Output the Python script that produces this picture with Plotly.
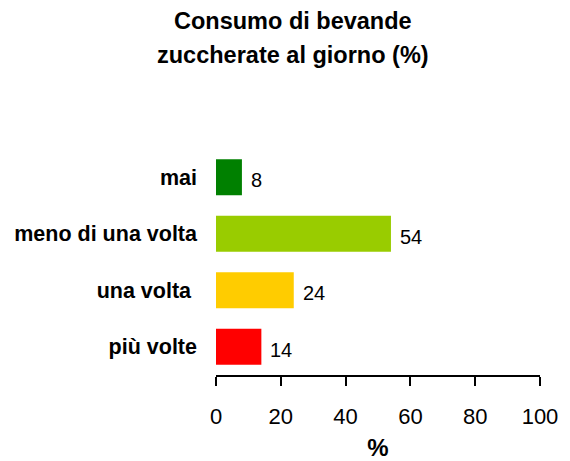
import plotly.graph_objects as go

categories = ["mai", "meno di una volta", "una volta\u00a0", "più volte"]
values = [8, 54, 24, 14]
colors = ["#008000", "#99CC00", "#FFCC00", "#FF0000"]
x_ticks = [0, 20, 40, 60, 80, 100]
title_lines = ["Consumo di bevande", "zuccherate al giorno (%)"]

FONT = "Liberation Sans, Arial, Helvetica, sans-serif"
PLOT_TOP, PLOT_BOTTOM = 149, 375

fig = go.Figure()
fig.add_trace(go.Bar(
    x=values, y=categories, orientation="h",
    marker=dict(color=colors, line=dict(width=0)),
    width=0.64, showlegend=False, hoverinfo="skip",
))

for c, v in zip(categories, values):
    fig.add_annotation(
        x=v, y=c, text=str(v), showarrow=False,
        xanchor="left", yanchor="middle", xshift=7, yshift=-3,
        font=dict(family=FONT, size=20, color="black"),
    )

for line, py in zip(title_lines, [21, 55]):
    fig.add_annotation(
        xref="paper", yref="paper",
        x=(293 - 216) / (540 - 216), y=(PLOT_BOTTOM - py) / (PLOT_BOTTOM - PLOT_TOP),
        text="<b>" + line + "</b>", showarrow=False,
        xanchor="center", yanchor="middle",
        font=dict(family=FONT, size=23.5, color="black"),
    )

fig.update_layout(
    template="none",
    width=570, height=461,
    margin=dict(l=216, r=30, t=PLOT_TOP, b=461 - PLOT_BOTTOM, autoexpand=False),
    paper_bgcolor="white", plot_bgcolor="white",
    xaxis=dict(
        automargin=False,
        range=[0, 100], tickvals=x_ticks, ticktext=[str(t) for t in x_ticks],
        showgrid=False, zeroline=False, showline=True, linecolor="black", linewidth=2,
        ticks="outside", ticklen=9, tickwidth=2, tickcolor="black",
        ticklabelstandoff=12,
        tickfont=dict(family=FONT, size=22, color="black"),
        title=dict(text="<b>%</b>", font=dict(family=FONT, size=24, color="black"), standoff=14),
        fixedrange=True,
    ),
    yaxis=dict(
        automargin=False,
        categoryorder="array", categoryarray=categories,
        range=[3.5, -0.5], showgrid=False, zeroline=False, showline=False,
        ticks="", ticklabelstandoff=18,
        tickfont=dict(family=FONT, size=21.5, color="black", weight="bold"),
        fixedrange=True,
    ),
)

fig.write_html("out.html", config={"displayModeBar": False},
               post_script="document.body.style.margin='0';")
